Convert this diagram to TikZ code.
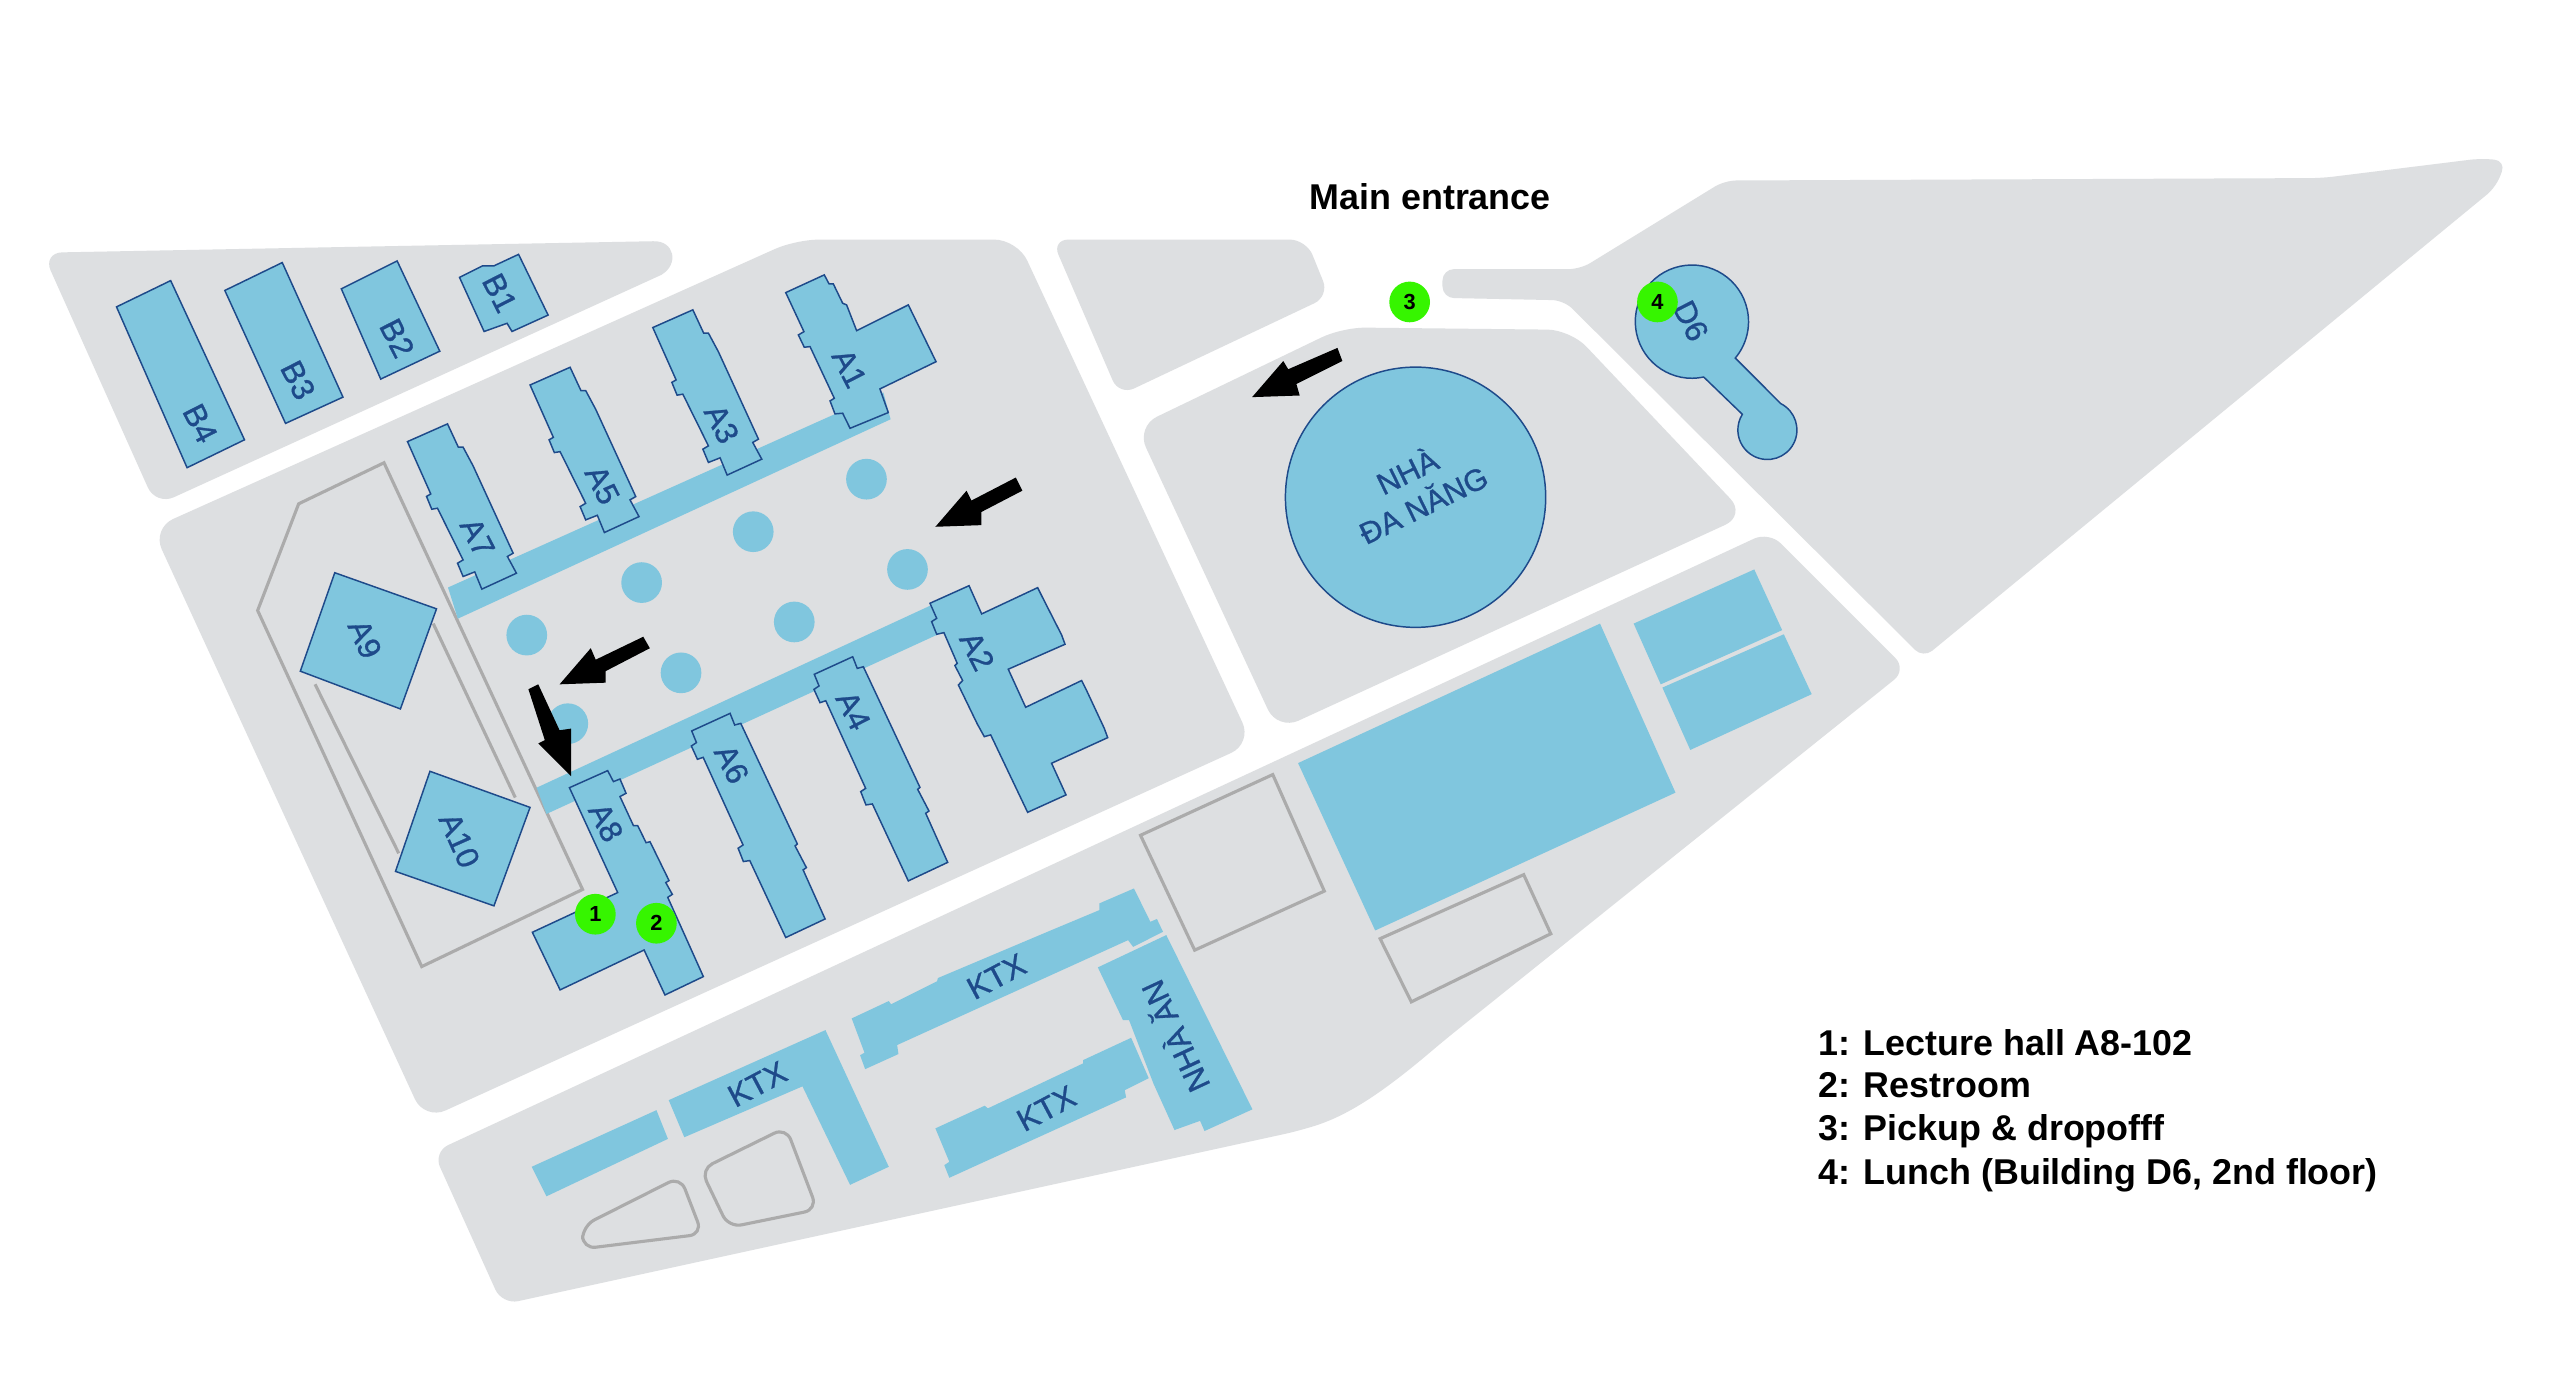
\documentclass[tikz,border=0pt]{standalone}
\usepackage{fontspec}
\setmainfont{Liberation Sans}
\newfontfamily\lblfont[FakeBold=0.9]{Liberation Sans}
\definecolor{ground}{HTML}{DDDFE1}
\definecolor{bluefill}{HTML}{80C6DE}
\definecolor{bluedark}{HTML}{1E4A8A}
\definecolor{lotgray}{HTML}{ABABAB}
\definecolor{markgreen}{HTML}{36F500}
\tikzset{
  block/.style={fill=ground,rounded corners=10pt},
  lot/.style={draw=lotgray,line width=1.9pt,line join=miter},
  softlot/.style={draw=lotgray,line width=1.9pt,rounded corners=8pt},
  bldg/.style={fill=bluefill,draw=bluedark,line width=0.9pt,line join=miter},
  flat/.style={fill=bluefill},
  pond/.style={fill=bluefill},
  blackarrow/.style={fill=black},
  marker/.style={circle,fill=markgreen,minimum size=24.8pt,inner sep=0pt,font=\fontsize{13.3}{13.3}\selectfont\bfseries},
  lbl/.style={text=bluedark,font=\lblfont\fontsize{19.2}{23}\selectfont,inner sep=0pt,align=center},
  legend/.style={anchor=base west,inner sep=0pt,font=\fontsize{21.85}{26}\selectfont\bfseries},
}
\begin{document}
\begin{tikzpicture}[x=1pt,y=1pt,yscale=-1]
\useasboundingbox (0,0) rectangle (1560,848.9);
\fill[white] (0,0) rectangle (1560,848.9);
% ground blocks
\fill[ground] (398,147) .. controls (411,146.5) and (414,161) .. (403,167.5) [rounded corners=12pt] -- (95,308) -- (26,154) -- (200,150.7) [sharp corners] -- cycle;
\fill[block,rounded corners=14pt] (485,146) -- (620,146) -- (763,453) -- (258.7,682.5) -- (92.7,322) -- cycle;
\fill[block] (641,146) -- (796,146) -- (810,180.5) -- (682,241) -- cycle;
\fill[block,rounded corners=14pt] (818,199.5) -- (957,201) -- (1064,314) -- (778.5,445) -- (692.4,260) -- cycle;
\fill[block,rounded corners=7pt] (1051,110) -- (1415,108.5) -- (1512,96.5) -- (1527,98) -- (1521,114) -- (1172,401) -- (953,183) -- (879,181.5) -- (879,164) -- (963,164) -- cycle;
\fill[block] (1078,324) -- (1162,408) -- (880,634) .. controls (840,668) and (820,680) .. (792,689) -- (306,795) -- (264,702) -- cycle;
% outlined lots
\draw[lot] (234,282) -- (182,307) -- (157,372) -- (257,589) -- (355,542) -- cycle;
\draw[lot] (192,417) -- (243,520);
\draw[lot] (264,380) -- (314,486);
\draw[lot] (695,509) -- (775.6,472) -- (807,543) -- (728,579) -- cycle;
\draw[lot] (928.5,533) -- (945,569) -- (860,610.5) -- (841,572) -- cycle;
\draw[softlot] (355,747) -- (414.5,717) -- (428,752) -- (355,761) -- cycle;
\draw[softlot] (427,712.6) -- (479,687) -- (498,737) -- (444,748) -- cycle;
% walkways and round courts
\fill[flat] (538.3,239.1) -- (542.7,255.5) -- (279,377) -- (273,358) -- cycle;
\fill[flat] (567,369) -- (575,385) -- (333,496) -- (327,480) -- cycle;
\foreach \cx/\cy in {528/292,459/324,391/355,321/387,553/347,484/379,415/410,346/441}
  \fill[pond] (\cx,\cy) circle (12.4);
% B row
\filldraw[bldg] (71,187) -- (104,171) -- (149,268) -- (114,285) -- cycle;
\filldraw[bldg] (137,177) -- (172,160) -- (209,242) -- (174,258) -- cycle;
\filldraw[bldg] (208,176) -- (242,159) -- (268,214) -- (232,231) -- cycle;
\filldraw[bldg] (280,169) -- (294,162) -- (301,162) -- (316,155) -- (334,192) -- (312,202) -- (309,197) -- (295,202) -- cycle;
% A row top: A1, then A5 with its copies A3 and A7
\filldraw[bldg] (478.8,178.3) -- (502.3,167.5) -- (505.2,173) -- (507.8,173) -- (513.5,184.8) -- (515.9,185.8) -- (522,201.5) -- (553.5,185.8) -- (570.4,220.4) -- (536.2,237) -- (541.3,251.4) -- (518,261) -- (513.5,251.8) -- (508.8,252.2) -- (505.8,244.3) -- (508.4,242.7) -- (493.6,211.2) -- (490.1,211.6) -- (486.5,204.1) -- (489.9,202.1) -- cycle;
\foreach \sx/\sy in {0/0,74.8/-35,-74.7/34.5}
  \filldraw[bldg,shift={(\sx,\sy)}] (323,234.6) -- (347.4,223.8) -- (354,238) -- (356.9,238) -- (363,249.4) -- (387.4,302.6) -- (383.9,304.6) -- (389.4,314.8) -- (368.3,324.5) -- (364,314) -- (356.9,316.8) -- (353.5,308.7) -- (356.9,306.7) -- (341.3,275.2) -- (337.8,275.8) -- (334.6,268) -- (337.2,266.5) -- cycle;
% A row bottom: A2, A4 and its copy A6, A8
\filldraw[bldg] (566.7,367.6) -- (590.5,356.9) -- (598.2,374.1) -- (632.3,358.1) -- (634.7,362.9) -- (646.9,386.9) -- (649,392.6) -- (614.4,407.8) -- (625,431) -- (659.1,414.7) -- (661.5,419.4) -- (672.9,443.8) -- (675,449.5) -- (640.8,465.1) -- (649.6,484.4) -- (626.2,495) -- (603.7,447.8) -- (599.8,448.9) -- (595.5,441.1) -- (584,417.4) -- (586.6,414.7) -- (581.9,405.6) -- (583.3,404.2) -- (575.2,385.5) -- (570.8,386.5) -- (567.7,378.8) -- (570.8,376.8) -- cycle;
\foreach \sx/\sy in {0/0,-74.7/34.5}
  \filldraw[bldg,shift={(\sx,\sy)}] (496.2,410.9) -- (519.6,400.2) -- (522.4,407.3) -- (526.1,406.3) -- (560.6,479.8) -- (559.2,481) -- (566.1,494.2) -- (564.1,495.6) -- (577.5,525.5) -- (553.5,536.8) -- (531.6,489.9) -- (527.7,490.5) -- (524.5,482.4) -- (527.5,480.4) -- (503.2,427) -- (499.7,428.2) -- (496,420.1) -- (499.1,418) -- cycle;
\filldraw[bldg] (347,480) -- (370.3,469.6) -- (373.8,476.3) -- (377.8,474.7) -- (381.5,483.4) -- (377.8,485.4) -- (386,503.1) -- (388.6,503.1) -- (393.7,513.5) -- (396.1,512.9) -- (407.7,536.6) -- (405.7,537.8) -- (409.7,545) -- (406.9,546.8) -- (428.6,595.1) -- (405.2,606.3) -- (392.5,578.9) -- (341.3,603.2) -- (324.4,568.1) -- (376.4,543.9) -- cycle;
\filldraw[bldg] (204,349) -- (266,371) -- (244,432) -- (183,409) -- cycle;
\filldraw[bldg] (262,470) -- (323,492) -- (301,552) -- (241,531) -- cycle;
% large round buildings
\filldraw[bldg] (862.6,303) circle (79.3);
\filldraw[bldg] ([shift={(78:34.5)}]1031,196) arc (78:400:34.5) -- ([shift={(-63:18)}]1077,262) arc (-63:212:18) -- cycle;
% flat buildings, lower block
\fill[flat] (791,465) -- (975,380) -- (1021,483) -- (838,567) -- cycle;
\fill[flat] (995.5,380) -- (1069,347) -- (1086,384) -- (1012,417) -- cycle;
\fill[flat] (1087,386.5) -- (1104,423) -- (1030,457) -- (1013,419) -- cycle;
\fill[flat] (324,711) -- (400,676.5) -- (407,694) -- (333,729) -- cycle;
\fill[flat] (407.5,670.4) -- (503,627.7) -- (541.6,711) -- (518,722) -- (489,662) -- (417,693) -- cycle;
\fill[flat] (519,620.6) -- (541.6,610) -- (543,612) -- (571,598) -- (571.5,596) -- (640.7,566.8) -- (669.9,554.6) -- (669.9,550.5) -- (691,541.4) -- (701,561.7) -- (705,560) -- (708.7,567.8) -- (690.5,577) -- (687.4,572.9) -- (546.7,636.8) -- (547.5,642.3) -- (527.2,651.5) -- (524.1,643) -- (526.8,641.5) -- cycle;
\fill[flat] (570,687.6) -- (600,673.8) -- (602,675.4) -- (660,648) -- (660,646) -- (689.3,632.4) -- (700,657) -- (685.4,664.3) -- (686.2,668.7) -- (578.5,717.7) -- (575.4,710) -- (578.5,708) -- cycle;
\fill[flat] (669,589.5) -- (710.7,569.8) -- (763.2,676) -- (734,689.2) -- (731.3,683) -- (715.7,688.6) -- (703,660.6) -- (688,621.6) -- (684.3,621.6) -- cycle;
% black arrows
\fill[blackarrow] (619,291) -- (623,299) -- (598,312) -- (598,320) -- (570,321) -- (589,299) -- (592,305) -- cycle;
\fill[blackarrow] (392,388) -- (396,395) -- (369,409) -- (369,416) -- (341,417) -- (360,395) -- (363,402) -- cycle;
\fill[blackarrow] (322,420) -- (328,417) -- (341,445) -- (348,444) -- (348,473) -- (328,453) -- (332,451) -- cycle;
\fill[blackarrow] (815,212) -- (818,220) -- (790,234) -- (792,241) -- (763,242) -- (782,220) -- (785,225) -- cycle;
% labels
\node[lbl,rotate=-63] (lB4) at (122,258) {B4};
\node[lbl,rotate=-63] (lB3) at (181.6,231.6) {B3};
\node[lbl,rotate=-63] (lB2) at (242,206) {B2};
\node[lbl,rotate=-63] (lB1) at (304.5,178.5) {B1};
\node[lbl,rotate=-63] (lA1) at (517.6,224.4) {A1};
\node[lbl,rotate=-63] (lA3) at (439.8,258.3) {A3};
\node[lbl,rotate=-63] (lA5) at (367,295.5) {A5};
\node[lbl,rotate=-63] (lA7) at (291,327.4) {A7};
\node[lbl,rotate=-66] (lA9) at (222.4,389.4) {A9};
\node[lbl,rotate=-63] (lA2) at (595.5,396.7) {A2};
\node[lbl,rotate=-63] (lA4) at (520,433) {A4};
\node[lbl,rotate=-63] (lA6) at (445.9,465.6) {A6};
\node[lbl,rotate=-63] (lA8) at (369.3,501.1) {A8};
\node[lbl,rotate=-66] (lA10) at (280,512) {A10};
\node[lbl,rotate=-63] (lD6) at (1030.4,195.5) {D6};
\node[lbl,rotate=28] (lK1) at (461.5,660.6) {KTX};
\node[lbl,rotate=28] (lK2) at (607.2,595) {KTX};
\node[lbl,rotate=28] (lK3) at (637.6,675.4) {KTX};
\node[lbl,rotate=115] (lNA) at (715,632) {NHÀ ĂN};
\node[lbl,rotate=26,font=\lblfont\fontsize{18.5}{22.5}\selectfont] (lND) at (862,296.5) {NHÀ\\ĐA NĂNG};
% numbered markers
\node[marker] (m1) at (362.8,557.1) {1};
\node[marker] (m2) at (400,562.6) {2};
\node[marker] (m3) at (859,184) {3};
\node[marker] (m4) at (1010,184) {4};
% texts
\node[inner sep=0pt,font=\fontsize{21.85}{26}\selectfont\bfseries] (main) at (871.5,120) {Main entrance};
\node[legend] (leg1) at (1108,643) {1: Lecture hall A8-102};
\node[legend] (leg2) at (1108,669) {2: Restroom};
\node[legend] (leg3) at (1108,695) {3: Pickup \& dropofff};
\node[legend] (leg4) at (1108,722) {4: Lunch (Building D6, 2nd floor)};
\end{tikzpicture}
\end{document}
